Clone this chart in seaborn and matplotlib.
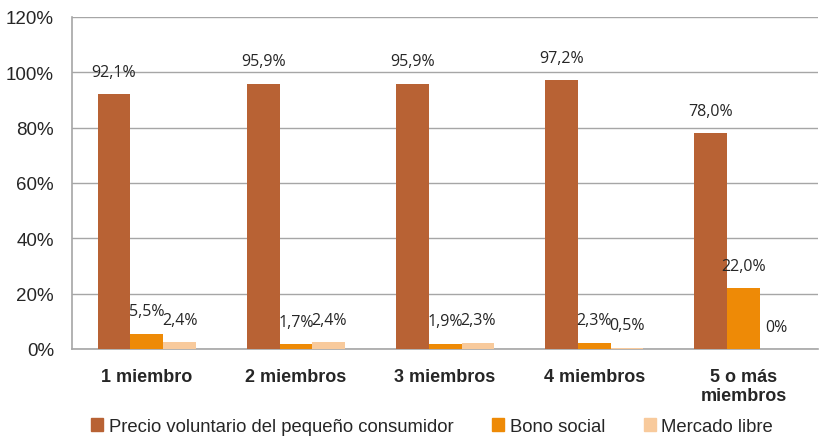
import numpy as np
import pandas as pd
import seaborn as sns
import matplotlib.pyplot as plt
from matplotlib.ticker import FixedLocator, FuncFormatter

# Data
categories = ["1 miembro", "2 miembros", "3 miembros", "4 miembros", "5 o más\nmiembros"]
series = ["Precio voluntario del pequeño consumidor", "Bono social", "Mercado libre"]
pvpc = [92.1, 95.9, 95.9, 97.2, 78.0]
bono = [5.5, 1.7, 1.9, 2.3, 22.0]
libre = [2.4, 2.4, 2.3, 0.5, 0.0]
labels_pvpc = ["92,1%", "95,9%", "95,9%", "97,2%", "78,0%"]
labels_bono = ["5,5%", "1,7%", "1,9%", "2,3%", "22,0%"]
labels_libre = ["2,4%", "2,4%", "2,3%", "0,5%", "0%"]
colors = ["#B86234", "#EE8A06", "#F8CA9C"]

df = pd.DataFrame({
    "categoria": categories * 3,
    "serie": [series[0]] * 5 + [series[1]] * 5 + [series[2]] * 5,
    "valor": pvpc + bono + libre,
})

sns.set_style("white")
plt.rcParams['font.family'] = ['Liberation Sans', 'DejaVu Sans']
text_color = "#262626"
grid_color = "#A6A6A6"

fig = plt.figure(figsize=(8.2, 4.39), dpi=100)
ax = fig.add_axes([0.088, 0.203, 0.9096, 0.756])

sns.barplot(data=df, x="categoria", y="valor", hue="serie", order=categories,
            hue_order=series, palette=colors, width=0.66, gap=0,
            saturation=1, ax=ax, legend=False, zorder=3, linewidth=0)

# data labels
all_labels = [labels_pvpc, labels_bono, labels_libre]
for cont, labs in zip(ax.containers, all_labels):
    for bar, lab in zip(cont, labs):
        x = bar.get_x() + bar.get_width() / 2
        y = bar.get_height()
        ax.annotate(lab, (x, y), xytext=(0, 16), textcoords="offset points",
                    ha="center", va="center", fontsize=11.5,
                    family=["Open Sans", "DejaVu Sans"], color=text_color, zorder=5)

ax.set_ylim(0, 120)
ax.set_xlim(-0.5, 4.5)
ax.yaxis.set_major_locator(FixedLocator(np.arange(0, 121, 20)))
ax.yaxis.set_major_formatter(FuncFormatter(lambda v, p: f"{v:.0f}%"))
ax.grid(axis="y", color=grid_color, lw=1, zorder=0)
ax.set_axisbelow(True)

ax.set_xlabel("")
ax.set_ylabel("")
ax.xaxis.set_minor_locator(FixedLocator(np.arange(-0.5, 4.6, 1)))
ax.tick_params(axis="x", which="major", length=0, pad=14, labelsize=13, colors=text_color)
ax.tick_params(axis="x", which="minor", length=6, width=1, color=grid_color, direction="out")
ax.tick_params(axis="y", length=5, width=1, color=grid_color, direction="out",
               labelsize=13.5, labelcolor=text_color, pad=8)
for lab in ax.get_xticklabels():
    lab.set_fontweight("bold")
    lab.set_linespacing(1.15)

for s in ["top", "right"]:
    ax.spines[s].set_visible(False)
for s in ["left", "bottom"]:
    ax.spines[s].set_color(grid_color)
    ax.spines[s].set_linewidth(1.2)

handles = [plt.Rectangle((0, 0), 1, 1, color=c) for c in colors]
fig.legend(handles, series, loc="center", bbox_to_anchor=(0.527, 0.026), ncol=3,
           frameon=False, fontsize=13.3, handlelength=0.65, handleheight=0.65,
           handletextpad=0.3, columnspacing=2.1, labelcolor=text_color,
           borderaxespad=0, borderpad=0)

fig.savefig("out.png", dpi=100)
